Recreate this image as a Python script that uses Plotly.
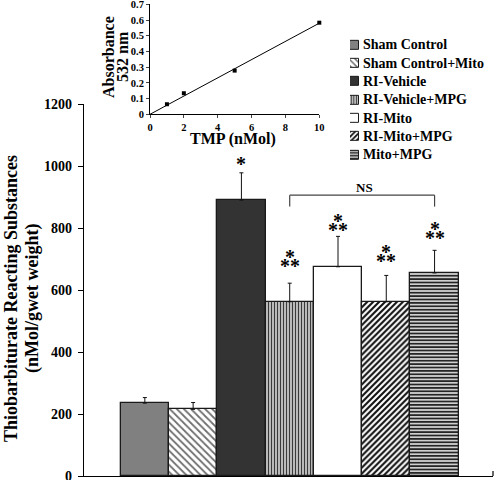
import plotly.graph_objects as go

# ---------------- data ----------------
categories = ["Sham Control", "Sham Control+Mito", "RI-Vehicle", "RI-Vehicle+MPG",
              "RI-Mito", "RI-Mito+MPG", "Mito+MPG"]
tbars_mean = [235, 215, 890, 562, 675, 562, 655]
tbars_err = [18, 22, 88, 60, 98, 85, 73]
sig_marks = ["", "", "*", "**", "**", "**", "**"]

tmp_nmol = [1, 2, 5, 10]
absorbance = [0.064, 0.134, 0.278, 0.583]
fit_x = [0, 10]
fit_y = [0, 0.58]

y_ticks = [0, 200, 400, 600, 800, 1000, 1200]

# ---------------- styles ----------------
fill_colors = ["#808080", "#ffffff", "#333333", "#d4d4d4", "#ffffff", "#ffffff", "#cfcfcf"]
pat_shapes = ["", "\\", "", "|", "", "/", "-"]
pat_fg = ["#808080", "#6e6e6e", "#333333", "#3a3a3a", "#ffffff", "#111111", "#111111"]
pat_size = [6, 5, 6, 3, 6, 4.2, 3.4]
pat_sol = [0.3, 0.35, 0.3, 0.45, 0.3, 0.5, 0.45]

FONT = "Liberation Serif, Times New Roman, serif"
W, H = 496, 480
ML, MR, MT, MB = 84, 3, 4, 4
PW, PH = W - ML - MR, H - MT - MB


def px(xp):
    return (xp - ML) / PW


def py(yp):
    return (H - MB - yp) / PH


fig = go.Figure()

row_y0, row_dy = 45.0, 18.33

for i, name in enumerate(categories):
    pat = dict(shape=pat_shapes[i], fgcolor=pat_fg[i], bgcolor=fill_colors[i],
               size=pat_size[i], solidity=pat_sol[i], fillmode="replace")
    # main bar
    fig.add_trace(go.Bar(
        x=[name], y=[tbars_mean[i]], width=1, name=name,
        marker=dict(color=fill_colors[i], line=dict(color="#1a1a1a", width=1.3),
                    pattern=pat),
        error_y=dict(type="data", symmetric=False, array=[tbars_err[i]],
                     arrayminus=[0], color="#111111", thickness=1, width=2),
        showlegend=False, xaxis="x", yaxis="y",
    ))
    # legend swatch (manual legend)
    fig.add_trace(go.Bar(
        y=[i], x=[1], orientation="h", width=0.5, name=name,
        marker=dict(color=fill_colors[i], line=dict(color="#1a1a1a", width=1),
                    pattern=dict(shape=pat_shapes[i], fgcolor=pat_fg[i], bgcolor=fill_colors[i],
                                 size=pat_size[i] * 0.85, solidity=pat_sol[i],
                                 fillmode="replace")),
        showlegend=False, xaxis="x3", yaxis="y3", hoverinfo="skip",
    ))

# inset standard curve
fig.add_trace(go.Scatter(x=fit_x, y=fit_y, mode="lines",
                         line=dict(color="black", width=1),
                         xaxis="x2", yaxis="y2", showlegend=False, cliponaxis=False))
fig.add_trace(go.Scatter(x=tmp_nmol, y=absorbance, mode="markers",
                         marker=dict(symbol="square", size=4, color="black"),
                         xaxis="x2", yaxis="y2", showlegend=False, cliponaxis=False))

annotations = []
# legend text
for i, name in enumerate(categories):
    annotations.append(dict(x=px(361), y=py(row_y0 + i * row_dy), xref="paper", yref="paper",
                            text=name, showarrow=False, xanchor="left", yanchor="middle",
                            font=dict(size=14, family=FONT, weight="bold", color="black")))

# significance stars (stacked: '**' with a '*' above)
star_offsets = [0, 0, 30, 55, 22, 46, 40]
star_font = dict(size=20, family=FONT, color="black", weight="bold")
for i, mark in enumerate(sig_marks):
    if not mark:
        continue
    base = tbars_mean[i] + tbars_err[i] + star_offsets[i]
    if mark == "*":
        annotations.append(dict(x=categories[i], y=base, xref="x", yref="y", text="*",
                                showarrow=False, yanchor="middle", font=star_font))
    else:
        annotations.append(dict(x=categories[i], y=base, xref="x", yref="y", text="**",
                                showarrow=False, yanchor="middle", font=star_font))
        annotations.append(dict(x=categories[i], y=base + 29, xref="x", yref="y", text="*",
                                showarrow=False, yanchor="middle", font=star_font))

# NS label
annotations.append(dict(x=px(364), y=py(187.5), xref="paper", yref="paper", text="NS",
                        showarrow=False, xanchor="center", yanchor="middle",
                        font=dict(size=13, family=FONT, weight="bold", color="black")))

# main y title (two rotated lines)
annotations.append(dict(x=px(11), y=py(299), xref="paper", yref="paper",
                        text="Thiobarbiturate Reacting Substances",
                        showarrow=False, textangle=-90, xanchor="center", yanchor="middle",
                        font=dict(size=18, family=FONT, weight="bold", color="black")))
annotations.append(dict(x=px(32), y=py(299), xref="paper", yref="paper",
                        text="(nMol/gwet weight)",
                        showarrow=False, textangle=-90, xanchor="center", yanchor="middle",
                        font=dict(size=18, family=FONT, weight="bold", color="black")))
# inset titles
annotations.append(dict(x=px(233), y=py(139), xref="paper", yref="paper",
                        text="TMP (nMol)", showarrow=False, xanchor="center", yanchor="middle",
                        font=dict(size=16, family=FONT, weight="bold", color="black")))
annotations.append(dict(x=px(108), y=py(57), xref="paper", yref="paper",
                        text="Absorbance", showarrow=False, textangle=-90,
                        xanchor="center", yanchor="middle",
                        font=dict(size=16, family=FONT, weight="bold", color="black")))
annotations.append(dict(x=px(122), y=py(57), xref="paper", yref="paper",
                        text="532 nm", showarrow=False, textangle=-90,
                        xanchor="center", yanchor="middle",
                        font=dict(size=16, family=FONT, weight="bold", color="black")))

bracket_top, bracket_leg = 906, 869
shapes = [
    dict(type="line", xref="x", yref="y", x0=categories[3], x1=categories[3],
         y0=bracket_leg, y1=bracket_top, line=dict(color="#444444", width=1.2)),
    dict(type="line", xref="x", yref="y", x0=categories[3], x1=categories[6],
         y0=bracket_top, y1=bracket_top, line=dict(color="#444444", width=1.2)),
    dict(type="line", xref="x", yref="y", x0=categories[6], x1=categories[6],
         y0=bracket_leg, y1=bracket_top, line=dict(color="#444444", width=1.2)),
    # right-end tick of x axis
    dict(type="line", xref="paper", yref="y", x0=1, x1=1, y0=0, y1=16,
         line=dict(color="black", width=1.2)),
]

fig.update_layout(
    width=W, height=H,
    margin=dict(l=ML, r=MR, t=MT, b=MB, pad=0, autoexpand=False),
    paper_bgcolor="white", plot_bgcolor="rgba(0,0,0,0)",
    font=dict(family=FONT, color="black", weight="bold"),
    bargap=0, barmode="overlay",
    showlegend=False,
    xaxis=dict(domain=[0, 1], type="category", range=[-1.26, 7.21],
               showticklabels=False, ticks="", showline=True, linecolor="black",
               linewidth=1.3, showgrid=False, zeroline=False, fixedrange=True,
               automargin=False),
    yaxis=dict(domain=[0, py(104)], range=[0, 1200], tickvals=y_ticks,
               ticks="outside", ticklen=5, tickwidth=1, tickcolor="black",
               ticklabelstandoff=3, ticklabeloverflow="allow",
               showline=True, linecolor="black", linewidth=1.3, showgrid=False,
               zeroline=False, automargin=False,
               tickfont=dict(size=14, family=FONT, weight="bold")),
    xaxis2=dict(domain=[px(150), px(319.3)], anchor="y2", range=[0, 10], dtick=2,
                ticks="outside", ticklen=3, tickwidth=1, showline=True, linecolor="black",
                linewidth=1, showgrid=False, zeroline=False, automargin=False,
                ticklabeloverflow="allow",
                tickfont=dict(size=10.5, family=FONT, weight="bold")),
    yaxis2=dict(domain=[py(114.3), py(4.3)], anchor="x2", range=[0, 0.7], dtick=0.1,
                ticks="outside", ticklen=3, tickwidth=1, showline=True, linecolor="black",
                linewidth=1, showgrid=False, zeroline=False, automargin=False,
                ticklabeloverflow="allow",
                tickfont=dict(size=10.5, family=FONT, weight="bold")),
    xaxis3=dict(domain=[px(350), px(359)], anchor="y3", range=[0, 1], visible=False,
                fixedrange=True),
    yaxis3=dict(domain=[py(row_y0 + 6.5 * row_dy), py(row_y0 - 0.5 * row_dy)],
                anchor="x3", range=[6.5, -0.5], visible=False, fixedrange=True),
    annotations=annotations,
    shapes=shapes,
)

fig.write_html(
    "out.html",
    config={"displayModeBar": False},
    post_script="document.body.style.margin='0';document.body.style.padding='0';"
                "document.body.style.overflow='hidden';",
)
